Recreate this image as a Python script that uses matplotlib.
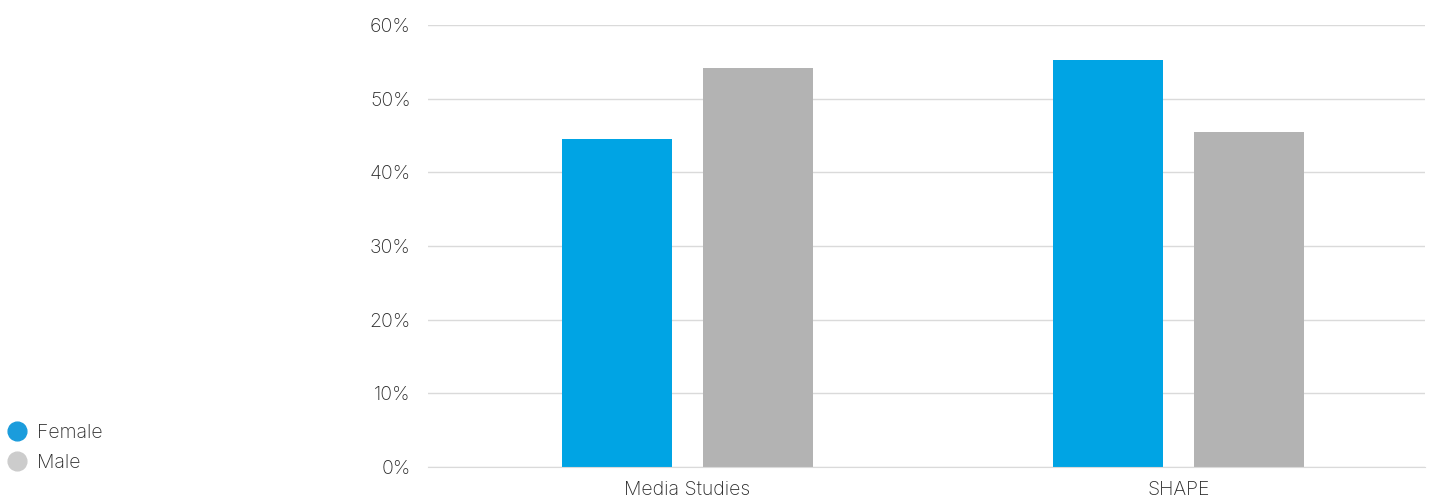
import matplotlib
matplotlib.use("Agg")
import matplotlib.pyplot as plt
from matplotlib.lines import Line2D
from matplotlib.ticker import FuncFormatter, MultipleLocator
import numpy as np

categories = ["Media Studies", "SHAPE"]
female = [44.5, 55.3]
male = [54.1, 45.5]
series_names = ["Female", "Male"]

bar_colors = ["#00A4E4", "#B3B3B3"]
legend_colors = ["#1B9CDC", "#CCCCCC"]
text_color = "#2A2A2A"
grid_color = "#DADADA"

plt.rcParams["font.family"] = ["Inter", "DejaVu Sans"]

fig = plt.figure(figsize=(14.35, 4.99), dpi=100)
ax = fig.add_axes([0.2983, 0.0641, 0.6947, 0.8858])

x = np.arange(len(categories))
width = 0.224
offset = 0.1434
ax.bar(x - offset, female, width, color=bar_colors[0], zorder=3)
ax.bar(x + offset, male, width, color=bar_colors[1], zorder=3)

ax.set_xlim(-0.528, 1.502)
ax.set_ylim(0, 60)
ax.yaxis.set_major_locator(MultipleLocator(10))
ax.yaxis.set_major_formatter(FuncFormatter(lambda v, _: f"{v:.0f}%"))
ax.set_xticks(x)
ax.set_xticklabels(categories)

ax.grid(axis="y", color=grid_color, linewidth=1, zorder=0)
for side in ["top", "right", "left"]:
    ax.spines[side].set_visible(False)
ax.spines["bottom"].set_color(grid_color)
ax.spines["bottom"].set_zorder(4)

fs = 14
ax.tick_params(axis="y", length=0, pad=12.5, labelsize=fs, labelcolor=text_color)
ax.tick_params(axis="x", length=0, pad=10, labelsize=fs, labelcolor=text_color)
for lbl in ax.get_xticklabels() + ax.get_yticklabels():
    lbl.set_fontweight("light")

handles = [
    Line2D([], [], linestyle="none", marker="o", markersize=13.5,
           markerfacecolor=c, markeredgecolor=c)
    for c in legend_colors
]
leg = fig.legend(handles, series_names, loc="upper left",
                 bbox_to_anchor=(-0.0005, 0.166), frameon=False,
                 handlelength=1.0, handletextpad=0.55, labelspacing=0.62,
                 fontsize=fs, borderaxespad=0)
for t in leg.get_texts():
    t.set_color(text_color)
    t.set_fontweight("light")

fig.savefig("out.png", dpi=100)
